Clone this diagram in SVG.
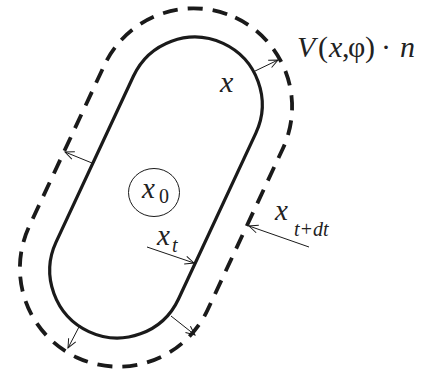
<svg xmlns="http://www.w3.org/2000/svg" width="422" height="369" viewBox="0 0 422 369">
<style>
.inner{fill:none;stroke:#1a1a1a;stroke-width:3.2}
.outer{fill:none;stroke:#1a1a1a;stroke-width:3.8;stroke-dasharray:15 10}
.arr{fill:none;stroke:#1a1a1a;stroke-width:1}
.lbl{font-family:"Liberation Serif","Times New Roman",serif;fill:#222;font-style:italic}
.up{font-style:normal}
</style>
<defs>
<marker id="ah" markerUnits="userSpaceOnUse" markerWidth="14" markerHeight="10" refX="10" refY="5" orient="auto" viewBox="0 0 14 10">
<path d="M1,1 L10,5 L1,9" fill="none" stroke="#1a1a1a" stroke-width="1"/>
</marker>
</defs>
<rect width="422" height="369" fill="#fff"/>
<g id="outer-front">
<rect class="outer" x="57.5" y="0" width="197" height="375" rx="98.5" ry="98.5" transform="rotate(25 156 187.5)"/>
</g>
<g id="inner-front">
<rect class="inner" x="88.5" y="28.5" width="135" height="318" rx="67.5" ry="67.5" transform="rotate(25 156 187.5)"/>
</g>
<g id="x0-node">
<ellipse cx="154" cy="192.5" rx="25.5" ry="24" fill="none" stroke="#1a1a1a" stroke-width="1"/>
<text class="lbl" x="142" y="198" font-size="29">x</text>
<text class="lbl up" x="159" y="203" font-size="20">0</text>
</g>
<g id="connectors">
<line class="arr" x1="253" y1="72" x2="278" y2="60" marker-end="url(#ah)"/>
<line class="arr" x1="92" y1="163" x2="65" y2="152" marker-end="url(#ah)"/>
<line class="arr" x1="147" y1="247" x2="194" y2="263" marker-end="url(#ah)"/>
<line class="arr" x1="309" y1="247" x2="249" y2="226" marker-end="url(#ah)"/>
<line class="arr" x1="80" y1="325" x2="68" y2="348" marker-end="url(#ah)"/>
<line class="arr" x1="171" y1="316" x2="195" y2="335" marker-end="url(#ah)"/>
</g>
<g id="labels">
<text class="lbl" font-size="30" y="57"><tspan x="297">V</tspan><tspan class="up" x="318">(</tspan><tspan x="329">x</tspan><tspan class="up" x="342">,</tspan><tspan class="up" x="348">φ</tspan><tspan class="up" x="365">)</tspan><tspan class="up" x="381">·</tspan><tspan x="400">n</tspan></text>
<text class="lbl" x="220" y="92" font-size="30">x</text>
<text class="lbl" x="157" y="245" font-size="29">x</text>
<text class="lbl" x="172" y="252" font-size="20">t</text>
<text class="lbl" x="275" y="220" font-size="29">x</text>
<text class="lbl" x="294" y="236" font-size="20">t+dt</text>
</g>
</svg>
